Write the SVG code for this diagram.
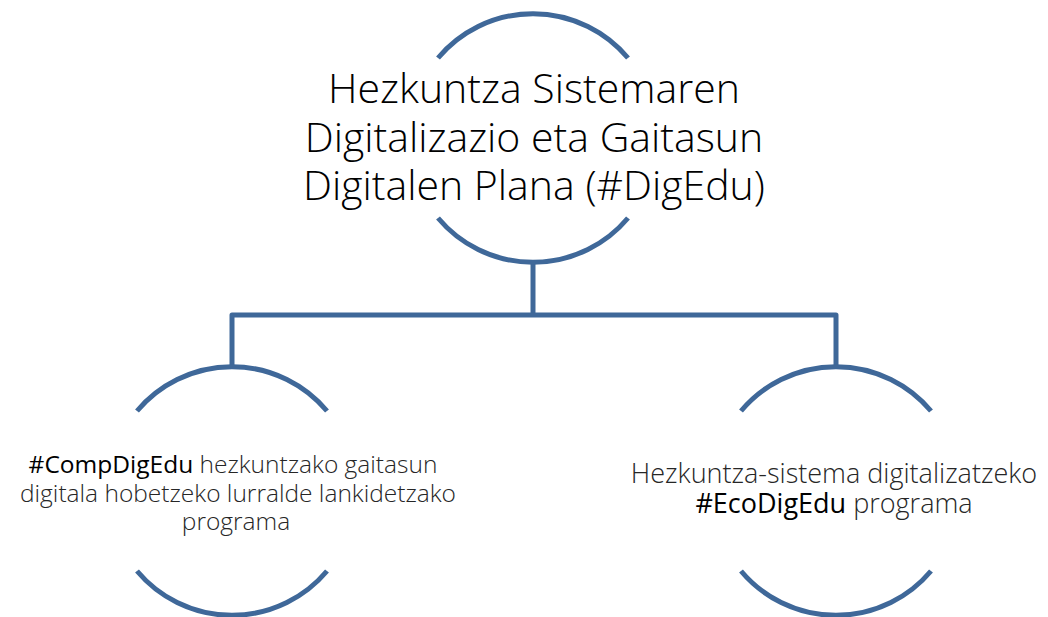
<svg xmlns="http://www.w3.org/2000/svg" width="1048" height="617" viewBox="0 0 1048 617">
<style>
.arc{fill:none;stroke:#3F6899;stroke-width:5;stroke-linecap:butt}
.conn{fill:none;stroke:#3F6899;stroke-width:5;stroke-linejoin:round;stroke-linecap:butt}
.title{font-family:"Open Sans","Liberation Sans",sans-serif;font-weight:300;font-size:41px;fill:#000;text-anchor:middle}
.body{font-family:"Open Sans","Liberation Sans",sans-serif;font-weight:300;fill:#262626;text-anchor:middle}
.l{font-size:24.5px}
.r{font-size:27px}
.tag{font-weight:400;fill:#000}
</style>
<rect width="1048" height="617" fill="#fff"/>
<g id="connectors">
<path class="conn" d="M533 262 V315"/>
<path class="conn" d="M232 366 V315 H836 V366"/>
</g>
<g id="node-top">
<path class="arc" d="M438 58 A124 124 0 0 1 628 58"/>
<path class="arc" d="M438 218 A124 124 0 0 0 628 218"/>
<text class="title" x="534" y="103">Hezkuntza Sistemaren</text>
<text class="title" x="534" y="152">Digitalizazio eta Gaitasun</text>
<text class="title" x="534" y="200">Digitalen Plana (#DigEdu)</text>
</g>
<g id="node-left">
<path class="arc" d="M137 411 A124 124 0 0 1 327 411"/>
<path class="arc" d="M137 571 A124 124 0 0 0 327 571"/>
<text class="body l" x="233" y="473"><tspan class="tag">#CompDigEdu</tspan> hezkuntzako gaitasun</text>
<text class="body l" x="238" y="502">digitala hobetzeko lurralde lankidetzako</text>
<text class="body l" x="236" y="530">programa</text>
</g>
<g id="node-right">
<path class="arc" d="M741 411 A124 124 0 0 1 931 411"/>
<path class="arc" d="M741 571 A124 124 0 0 0 931 571"/>
<text class="body r" x="834" y="483">Hezkuntza-sistema digitalizatzeko</text>
<text class="body r" x="834" y="513"><tspan class="tag">#EcoDigEdu</tspan> programa</text>
</g>
</svg>
